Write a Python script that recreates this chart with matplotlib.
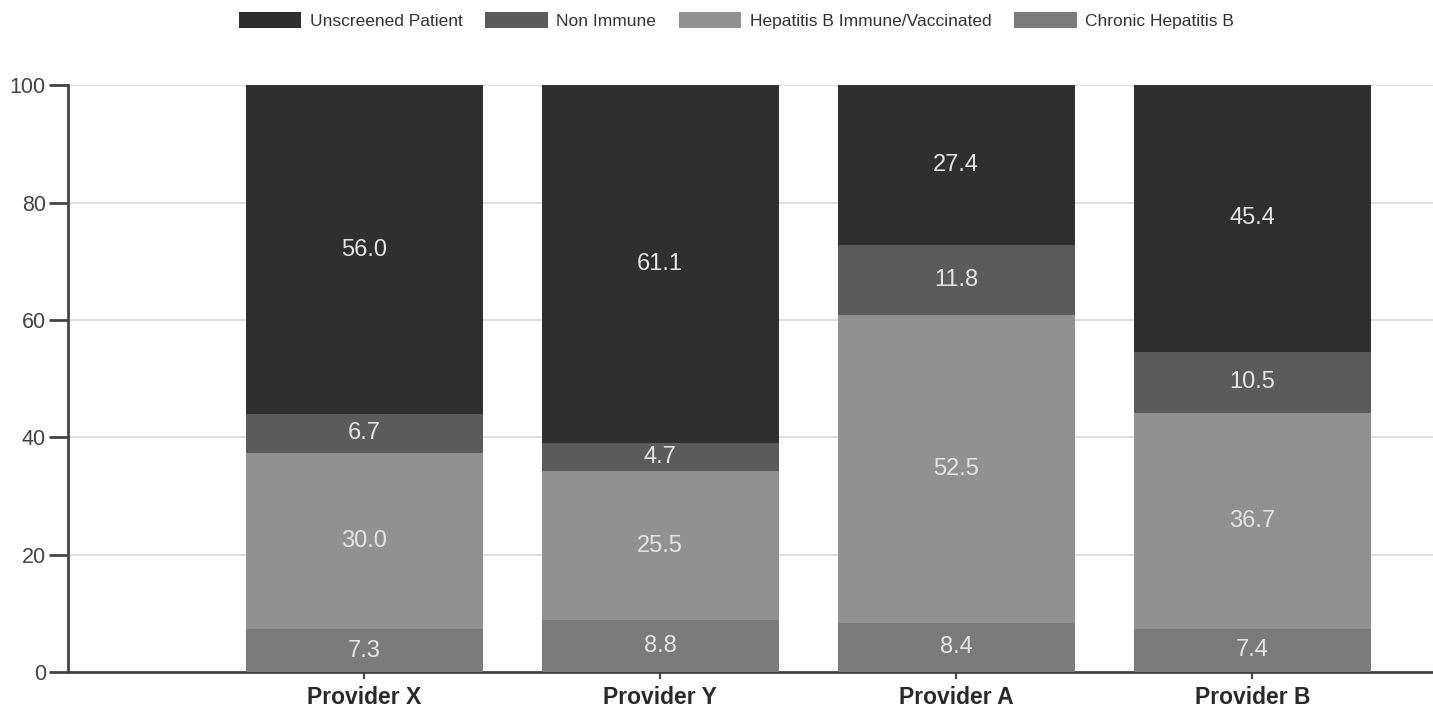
import numpy as np
import matplotlib
matplotlib.use("Agg")
import matplotlib.pyplot as plt

providers = ["Provider X", "Provider Y", "Provider A", "Provider B"]
series_names = ["Unscreened Patient", "Non Immune",
                "Hepatitis B Immune/Vaccinated", "Chronic Hepatitis B"]

# stacked bottom to top: chronic, immune, non immune, unscreened
chronic = [7.3, 8.8, 8.4, 7.4]
immune = [30.0, 25.5, 52.5, 36.7]
non_immune = [6.7, 4.7, 11.8, 10.5]
unscreened = [56.0, 61.1, 27.4, 45.4]

colors = {
    "Chronic Hepatitis B": "#7b7b7b",
    "Hepatitis B Immune/Vaccinated": "#919191",
    "Non Immune": "#5b5b5b",
    "Unscreened Patient": "#2f2f2f",
}

plt.rcParams['font.family'] = ['Liberation Sans', 'DejaVu Sans']

fig = plt.figure(figsize=(14.33, 7.10), dpi=100)
ax = fig.add_axes([0.0475, 0.0535, 0.9525, 0.8265])

x = np.arange(1, len(providers) + 1)
width = 0.8
stack = [("Chronic Hepatitis B", chronic),
         ("Hepatitis B Immune/Vaccinated", immune),
         ("Non Immune", non_immune),
         ("Unscreened Patient", unscreened)]

bottom = np.zeros(len(providers))
handles = {}
for name, vals in stack:
    vals = np.array(vals)
    bars = ax.bar(x, vals, width, bottom=bottom, color=colors[name],
                  edgecolor="none", zorder=3, label=name)
    handles[name] = bars
    for xi, b, v in zip(x, bottom, vals):
        ax.text(xi, b + v / 2, f"{v:.1f}", ha="center", va="center",
                color="#e4e4e4", fontsize=17, zorder=4)
    bottom = bottom + vals

ax.set_xlim(0, 4.61)
ax.set_ylim(0, 100)
ax.set_yticks([0, 20, 40, 60, 80, 100])
ax.set_xticks(x)
ax.set_xticklabels(providers, fontsize=16.5, fontweight="bold", color="#2a2a2a")
ax.tick_params(axis="y", labelsize=15.5, labelcolor="#444444", length=14,
               width=2, color="#444444", pad=2)
ax.tick_params(axis="x", length=5, width=1.5, color="#444444", pad=5)
ax.grid(axis="y", color="#d8d8d8", linewidth=1.2, zorder=0)
ax.set_axisbelow(True)

for side in ["top", "right"]:
    ax.spines[side].set_visible(False)
for side in ["left", "bottom"]:
    ax.spines[side].set_color("#444444")
    ax.spines[side].set_linewidth(2)

fig.legend([handles[n] for n in series_names], series_names,
           loc="upper center", bbox_to_anchor=(0.514, 1.005), ncol=4,
           frameon=False, fontsize=12.5, handlelength=3.6, handleheight=1.0,
           columnspacing=1.3, handletextpad=0.5, labelcolor="#333333")

fig.savefig("out.png", dpi=100)
